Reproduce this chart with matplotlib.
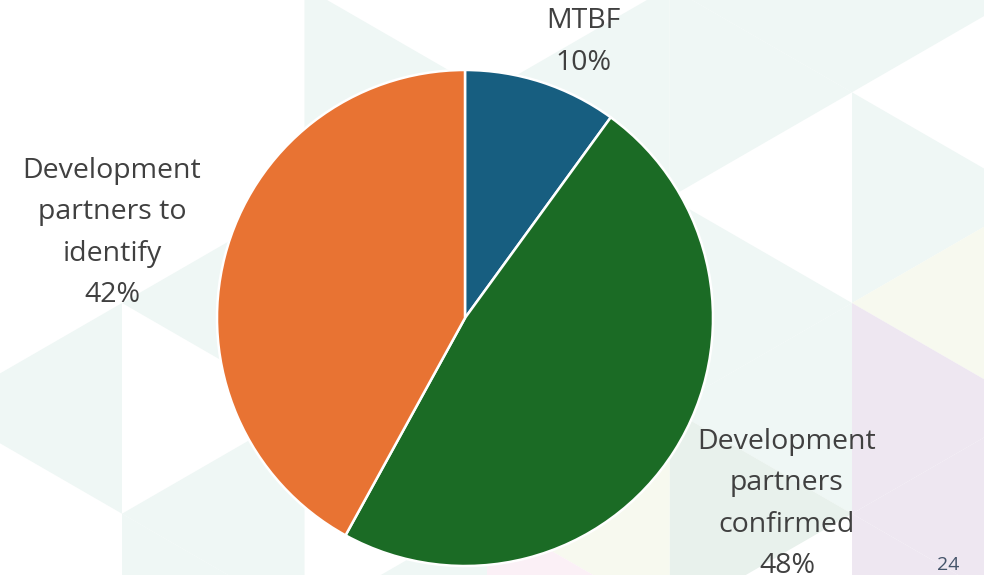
import matplotlib
matplotlib.use("Agg")
import matplotlib.pyplot as plt
from matplotlib.patches import Polygon

W, H = 984, 575

# chart data
categories = ["MTBF", "Development\npartners\nconfirmed", "Development\npartners to\nidentify"]
shares = [10, 48, 42]
colours = ["#175E80", "#1B6B25", "#E87333"]
page_number = "24"

# label centres in pixels (y measured from the top)
label_pos = [(583, 42), (787, 504), (112, 233)]

# background: faint triangle grid (column, node index, direction, colour)
TEAL = "#EFF7F5"
bg_tris = [
    (0, 0, "L", TEAL), (1, -1, "L", TEAL), (1, 1, "L", TEAL), (0, 2, "R", TEAL),
    (1, -3, "R", TEAL), (3, -3, "L", TEAL), (2, -2, "R", TEAL), (2, 2, "L", TEAL),
    (4, -4, "L", TEAL), (3, -3, "R", TEAL), (3, -1, "R", TEAL), (4, 0, "L", TEAL),
    (4, -4, "R", TEAL), (4, -2, "R", TEAL),
    (3, 1, "R", "#E8F1EC"),
    (5, -1, "L", "#F7F9EF"), (3, 1, "L", "#F7F9EF"),
    (4, 0, "R", "#EEE7F1"), (5, 1, "L", "#EEE7F1"), (4, 2, "R", "#EEE7F1"), (5, 3, "L", "#EEE7F1"),
    (2, 2, "R", "#FBF0F6"),
]
COL_X0, COL_W = 122, 182.5
NODE_Y0, TRI_H = 303, 210.7

plt.rcParams["font.family"] = ["Open Sans", "DejaVu Sans"]

fig = plt.figure(figsize=(W / 100, H / 100), dpi=100)
ax = fig.add_axes([0, 0, 1, 1])

for k, n, d, c in bg_tris:
    x = COL_X0 + COL_W * k
    y1 = NODE_Y0 + n * TRI_H / 2
    y2 = y1 + TRI_H
    ax_x = x + COL_W if d == "R" else x - COL_W
    pts = [(x, H - y1), (x, H - y2), (ax_x, H - (y1 + y2) / 2)]
    ax.add_patch(Polygon(pts, closed=True, facecolor=c, edgecolor="none", zorder=0))

ax.pie(shares, colors=colours, startangle=90, counterclock=False,
       center=(465, H - 318), radius=248,
       wedgeprops=dict(edgecolor="white", linewidth=1.8))

for cat, val, (lx, ly) in zip(categories, shares, label_pos):
    ax.text(lx, H - ly, f"{cat}\n{val}%", ha="center", va="center",
            fontsize=20.5, color="#404040", linespacing=1.63)

ax.text(948, H - 565, page_number, ha="center", va="center", fontsize=14, color="#44546A")

ax.set_xlim(0, W)
ax.set_ylim(0, H)
ax.set_aspect("equal")
ax.axis("off")

fig.savefig("out.png", dpi=100)
